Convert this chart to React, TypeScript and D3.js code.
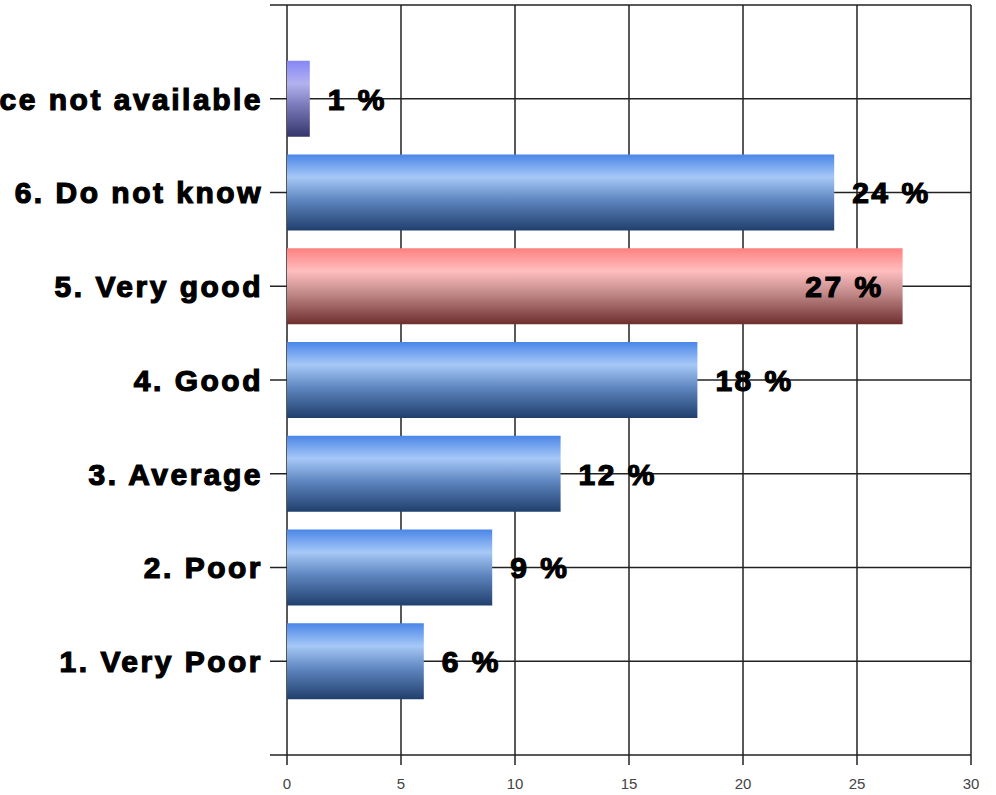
import { scaleLinear } from "d3";

const categories = [
  "1. Very Poor",
  "2. Poor",
  "3. Average",
  "4. Good",
  "5. Very good",
  "6. Do not know",
  "7. Service not available",
];
const values = [6, 9, 12, 18, 27, 24, 1];
const barColors = ["blue", "blue", "blue", "blue", "red", "blue", "purple"];
const xTicks = [0, 5, 10, 15, 20, 25, 30];

const gradients: Record<string, string[]> = {
  blue: ["#4a86e8", "#a6c8f7", "#5f86c0", "#203f6d"],
  red: ["#ff8080", "#ffbebe", "#c08888", "#6e2e2e"],
  purple: ["#8686f6", "#b2b2f0", "#7878b8", "#35356c"],
};

export default function App() {
  const width = 996;
  const height = 795;
  const left = 287;
  const right = 971;
  const top = 5;
  const bottom = 755;

  const x = scaleLinear().domain([0, 30]).range([left, right]);
  const y = scaleLinear().domain([0, categories.length + 1]).range([bottom, top]);
  const barH = 76;
  const rowTicks = Array.from({ length: categories.length + 2 }, (_, i) => i);

  const labelFont = "'Liberation Sans', Arial, sans-serif";

  return (
    <svg
      width={width}
      height={height}
      style={{ position: "absolute", left: 0, top: 0, background: "#fff" }}
    >
      <defs>
        {Object.entries(gradients).map(([k, c]) => (
          <linearGradient key={k} id={`grad-${k}`} x1="0" y1="0" x2="0" y2="1">
            <stop offset="0%" stopColor={c[0]} />
            <stop offset="30%" stopColor={c[1]} />
            <stop offset="60%" stopColor={c[2]} />
            <stop offset="100%" stopColor={c[3]} />
          </linearGradient>
        ))}
      </defs>

      {/* grid */}
      {rowTicks.map((t) => (
        <line
          key={`h-${t}`}
          x1={270}
          x2={right}
          y1={y(t)}
          y2={y(t)}
          stroke="#222"
          strokeWidth={1.5}
        />
      ))}
      {xTicks.map((t) => (
        <line
          key={`v-${t}`}
          x1={x(t)}
          x2={x(t)}
          y1={top}
          y2={bottom + 10}
          stroke="#222"
          strokeWidth={1.5}
        />
      ))}
      {xTicks.map((t) => (
        <text
          key={`xl-${t}`}
          x={x(t)}
          y={789}
          textAnchor="middle"
          fontFamily={labelFont}
          fontSize={15}
          fill="#444"
        >
          {t}
        </text>
      ))}

      {/* bars */}
      {categories.map((c, i) => (
        <rect
          key={`bar-${c}`}
          x={x(0)}
          y={y(i + 1) - barH / 2}
          width={x(values[i]) - x(0)}
          height={barH}
          fill={`url(#grad-${barColors[i]})`}
        />
      ))}

      {/* category labels */}
      {categories.map((c, i) => (
        <text
          key={`cl-${c}`}
          x={263}
          y={y(i + 1)}
          dy="0.36em"
          textAnchor="end"
          fontFamily={labelFont}
          fontWeight="bold"
          fontSize={30}
          letterSpacing={2.5}
          fill="#000"
          stroke="#000"
          strokeWidth={1.2}
        >
          {c}
        </text>
      ))}

      {/* value labels */}
      {categories.map((c, i) => {
        const end = x(values[i]);
        const inside = end + 100 > right;
        return (
          <text
            key={`vl-${c}`}
            x={inside ? end - 19 : end + 18}
            y={y(i + 1)}
            dy="0.36em"
            textAnchor={inside ? "end" : "start"}
            fontFamily={labelFont}
            fontWeight="bold"
            fontSize={30}
            letterSpacing={2.5}
            fill="#000"
            stroke="#000"
            strokeWidth={1.2}
          >
            {`${values[i]} %`}
          </text>
        );
      })}
    </svg>
  );
}
